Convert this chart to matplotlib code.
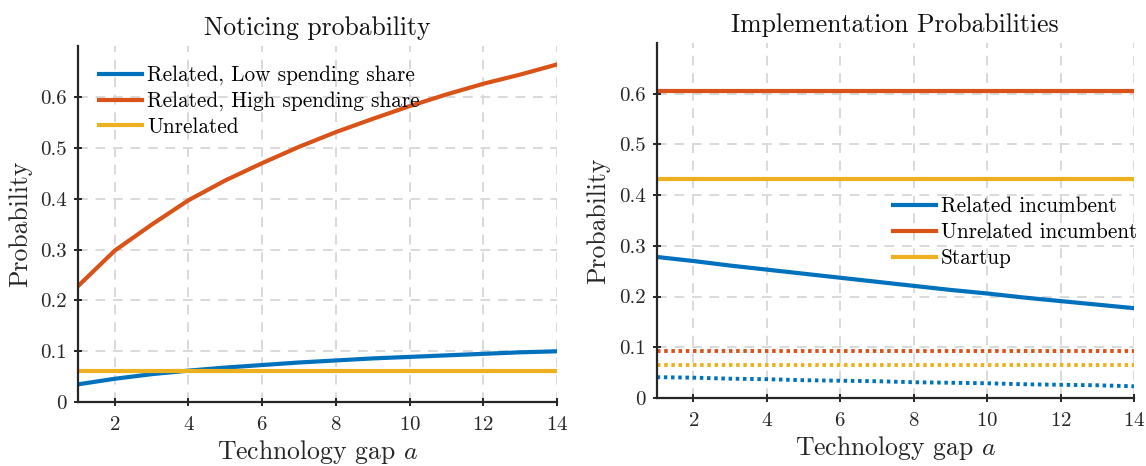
import matplotlib
matplotlib.use("Agg")
import matplotlib.pyplot as plt

plt.rcParams['font.family'] = 'cmr10'
plt.rcParams['mathtext.fontset'] = 'cm'
plt.rcParams['axes.formatter.use_mathtext'] = True

# Technology gap values
gap = list(range(1, 15))

# Noticing probabilities
notice_low = [0.035, 0.046, 0.055, 0.062, 0.068, 0.073, 0.078, 0.082, 0.086, 0.089, 0.092, 0.095, 0.098, 0.100]
notice_high = [0.228, 0.298, 0.349, 0.397, 0.436, 0.470, 0.502, 0.531, 0.557, 0.582, 0.605, 0.626, 0.644, 0.664]
notice_unrel = [0.061] * 14

# Implementation probabilities (solid) and their low variants (dotted)
impl_related = [0.278, 0.270, 0.261, 0.253, 0.245, 0.237, 0.229, 0.221, 0.213, 0.206, 0.198, 0.191, 0.184, 0.177]
impl_unrel = [0.605] * 14
impl_startup = [0.431] * 14
impl_related_low = [0.041, 0.040, 0.038, 0.037, 0.035, 0.034, 0.033, 0.031, 0.030, 0.029, 0.027, 0.026, 0.025, 0.023]
impl_unrel_low = [0.093] * 14
impl_startup_low = [0.065] * 14

BLUE = '#0072BD'
ORANGE = '#D95319'
YELLOW = '#EDB120'
AX = '#262626'
DOT = (0, (0.9, 0.95))

fig = plt.figure(figsize=(11.46, 4.66), dpi=100)
ax1 = fig.add_axes([0.068, 0.137, 0.418, 0.764])
ax2 = fig.add_axes([0.573, 0.146, 0.4165, 0.762])


def style(ax, title):
    ax.set_xlim(1, 14)
    ax.set_ylim(0, 0.7)
    ax.set_xticks([2, 4, 6, 8, 10, 12, 14])
    ax.set_yticks([0, 0.1, 0.2, 0.3, 0.4, 0.5, 0.6])
    ax.set_yticklabels(['0', '0.1', '0.2', '0.3', '0.4', '0.5', '0.6'])
    ax.grid(True, color='#d9d9d9', linestyle=(0, (5, 4)), linewidth=1.4)
    ax.set_axisbelow(True)
    for s in ['top', 'right']:
        ax.spines[s].set_visible(False)
    for s in ['left', 'bottom']:
        ax.spines[s].set_color(AX)
        ax.spines[s].set_linewidth(1.6)
    ax.tick_params(axis='both', direction='inout', length=6, width=1.4, color=AX,
                   labelsize=15, labelcolor=AX)
    ax.tick_params(axis='x', pad=7)
    ax.tick_params(axis='y', pad=5)
    ax.set_title(title, fontsize=18.5, color='#111111', pad=8)
    ax.set_xlabel('Technology gap $a$', fontsize=18.5, color=AX, labelpad=3)
    ax.set_ylabel('Probability', fontsize=18.5, color=AX, labelpad=6)


style(ax1, 'Noticing probability')
ax1.plot(gap, notice_low, color=BLUE, lw=3, label='Related, Low spending share')
ax1.plot(gap, notice_high, color=ORANGE, lw=3, label='Related, High spending share')
ax1.plot(gap, notice_unrel, color=YELLOW, lw=3, label='Unrelated')
ax1.legend(loc='upper left', frameon=False, fontsize=15.3, handlelength=2.0,
           handletextpad=0.25, labelspacing=0.28, bbox_to_anchor=(0.0, 1.005),
           borderaxespad=0.6)

style(ax2, 'Implementation Probabilities')
ax2.plot(gap, impl_related, color=BLUE, lw=3, label='Related incumbent')
ax2.plot(gap, impl_unrel, color=ORANGE, lw=3, label='Unrelated incumbent')
ax2.plot(gap, impl_startup, color=YELLOW, lw=3, label='Startup')
ax2.plot(gap, impl_related_low, color=BLUE, lw=2.8, linestyle=DOT)
ax2.plot(gap, impl_unrel_low, color=ORANGE, lw=2.8, linestyle=DOT)
ax2.plot(gap, impl_startup_low, color=YELLOW, lw=2.8, linestyle=DOT)
ax2.legend(loc='upper left', frameon=False, fontsize=15.3, handlelength=2.0,
           handletextpad=0.25, labelspacing=0.3, bbox_to_anchor=(0.478, 0.59),
           borderaxespad=0.0)

fig.savefig('out.png', dpi=100)
